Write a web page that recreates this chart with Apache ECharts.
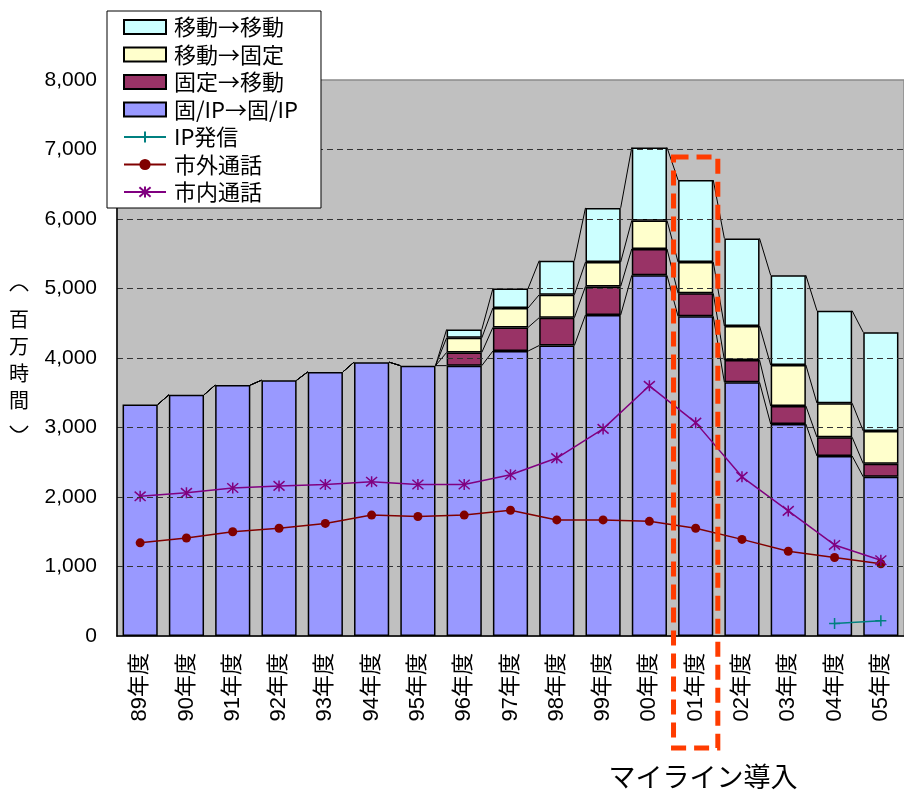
<!DOCTYPE html>
<html>
<head>
<meta charset="utf-8">
<script src="https://cdn.jsdelivr.net/npm/echarts@6/dist/echarts.min.js"></script>
<style>
  html, body { margin: 0; padding: 0; background: #fff; }
  #chart { width: 904px; height: 791px; }
</style>
</head>
<body>
<div id="chart"></div>
<script>
// 年度別の通話時間（百万時間）
const categories = ['89年度', '90年度', '91年度', '92年度', '93年度', '94年度', '95年度', '96年度', '97年度',
  '98年度', '99年度', '00年度', '01年度', '02年度', '03年度', '04年度', '05年度'];

// 積み上げ棒（下から順）
const fixedIpToFixedIp = [3330, 3470, 3610, 3680, 3800, 3940, 3890, 3890, 4100, 4180, 4620, 5190, 4600, 3650, 3050, 2590, 2290];
const fixedToMobile   = [null, null, null, null, null, null, null, 190, 340, 400, 410, 380, 330, 320, 260, 270, 190];
const mobileToFixed   = [null, null, null, null, null, null, null, 210, 280, 330, 350, 410, 450, 490, 590, 490, 470];
const mobileToMobile  = [null, null, null, null, null, null, null, 120, 280, 490, 780, 1050, 1180, 1260, 1290, 1330, 1420];

// 折れ線
const ipCalls    = [null, null, null, null, null, null, null, null, null, null, null, null, null, null, null, 180, 220];
const tollCalls  = [1340, 1410, 1500, 1550, 1620, 1740, 1720, 1740, 1810, 1670, 1670, 1650, 1550, 1390, 1220, 1130, 1040];
const localCalls = [2010, 2060, 2130, 2160, 2180, 2220, 2180, 2180, 2320, 2560, 2980, 3600, 3070, 2290, 1800, 1310, 1090];

const yTicks = [0, 1000, 2000, 3000, 4000, 5000, 6000, 7000, 8000];

const BAR_RATIO = 0.76;
const LATIN = '"Liberation Sans", Arial, "Noto Sans CJK JP", sans-serif';
const CJK = '"Noto Sans CJK JP", "Liberation Sans", sans-serif';

const barSeries = [
  { name: '固/IP→固/IP', data: fixedIpToFixedIp, color: '#9999FF' },
  { name: '固定→移動', data: fixedToMobile, color: '#993366' },
  { name: '移動→固定', data: mobileToFixed, color: '#FFFFCC' },
  { name: '移動→移動', data: mobileToMobile, color: '#CCFFFF' }
];

// 各積み上げ段の上端（棒同士をつなぐ区分線用）
const levels = [];
let running = categories.map(() => 0);
barSeries.forEach(s => {
  running = running.map((v, i) => v + (s.data[i] || 0));
  levels.push(running.slice());
});

const series = [];
barSeries.forEach(s => {
  series.push({
    name: s.name,
    type: 'bar',
    stack: 'total',
    barWidth: (BAR_RATIO * 100) + '%',
    data: s.data,
    itemStyle: { color: s.color, borderColor: '#000', borderWidth: 1.5 },
    z: 2
  });
});

levels.forEach((lv, k) => {
  series.push({
    name: 'seriesLine' + k,
    type: 'custom',
    silent: true,
    z: 3,
    encode: { x: 0, y: 1 },
    data: lv.map((v, i) => [i, v, i + 1 < lv.length ? lv[i + 1] : v]),
    renderItem: function (params, api) {
      const i = api.value(0);
      if (i >= categories.length - 1) return null;
      const half = api.size([1, 0])[0] * BAR_RATIO / 2;
      const a = api.coord([i, api.value(1)]);
      const b = api.coord([i + 1, api.value(2)]);
      return {
        type: 'line',
        shape: { x1: a[0] + half, y1: a[1], x2: b[0] - half, y2: b[1] },
        style: { stroke: '#000', lineWidth: 1 }
      };
    }
  });
});

const plusPath = 'path://M-5,0 L5,0 M0,-5 L0,5';
const starPath = 'path://M0,-5 L0,5 M-4.3,-4.3 L4.3,4.3 M-4.3,4.3 L4.3,-4.3';

series.push({
  name: 'IP発信', type: 'line', data: ipCalls, z: 5,
  symbol: plusPath, symbolSize: 11, showAllSymbol: true,
  lineStyle: { color: '#008080', width: 1.5 },
  itemStyle: { color: '#008080', borderColor: '#008080', borderWidth: 1.5 }
});
series.push({
  name: '市外通話', type: 'line', data: tollCalls, z: 5,
  symbol: 'circle', symbolSize: 9,
  lineStyle: { color: '#800000', width: 1.5 },
  itemStyle: { color: '#800000', borderColor: '#800000', borderWidth: 0 }
});
series.push({
  name: '市内通話', type: 'line', data: localCalls, z: 5,
  symbol: starPath, symbolSize: 11,
  lineStyle: { color: '#800080', width: 1.5 },
  itemStyle: { color: '#800080', borderColor: '#800080', borderWidth: 1.5 }
});

const chart = echarts.init(document.getElementById('chart'), null, { renderer: 'canvas' });

chart.setOption({
  animation: false,
  backgroundColor: '#fff',
  grid: {
    left: 117, right: -3, top: 80, bottom: 155,
    show: true, backgroundColor: '#C0C0C0', borderColor: '#8a8a8a', borderWidth: 1.5
  },
  legend: {
    orient: 'vertical',
    left: 107, top: 11,
    padding: [5, 23, 5, 16],
    itemGap: 5.5,
    itemWidth: 42, itemHeight: 14,
    selectedMode: false,
    backgroundColor: '#fff',
    borderColor: '#000', borderWidth: 1,
    z: 10,
    textStyle: { fontFamily: CJK, fontSize: 22, color: '#000', lineHeight: 22, padding: [0, 0, 0, 3] },
    data: [
      { name: '移動→移動', icon: 'rect' },
      { name: '移動→固定', icon: 'rect' },
      { name: '固定→移動', icon: 'rect' },
      { name: '固/IP→固/IP', icon: 'rect' },
      { name: 'IP発信' },
      { name: '市外通話' },
      { name: '市内通話' }
    ]
  },
  xAxis: {
    type: 'category',
    data: categories,
    boundaryGap: true,
    axisLine: { lineStyle: { color: '#000', width: 1.5 } },
    axisTick: { inside: true, length: 8, lineStyle: { color: '#555', width: 1.5 } },
    axisLabel: {
      rotate: 90, margin: 17, interval: 0,
      fontFamily: LATIN, fontSize: 22, color: '#000'
    },
    z: 6
  },
  yAxis: {
    type: 'value',
    min: yTicks[0], max: yTicks[yTicks.length - 1], interval: 1000,
    axisLine: { show: true, lineStyle: { color: '#000', width: 1.5 } },
    axisTick: { show: false },
    axisLabel: {
      margin: 20, fontFamily: LATIN, fontSize: 21, color: '#000',
      formatter: v => v.toLocaleString('en-US')
    },
    splitLine: {
      show: true, showMinLine: false, showMaxLine: false,
      lineStyle: { color: '#333', type: [6, 4], width: 1 }
    },
    z: 6
  },
  series: series
});

// マイライン導入の枠と注記、縦書きの単位（括弧は縦書き用の弧）
const x01 = chart.convertToPixel({ xAxisIndex: 0 }, categories[12]);
const halfBand = chart.getModel().getComponent('xAxis', 0).axis.getBandWidth() / 2 - 1;
const unitFont = '20px "Noto Sans CJK JP", sans-serif';
const bracketStyle = { fill: null, stroke: '#000', lineWidth: 1.5 };
chart.setOption({
  graphic: [
    {
      type: 'rect', z: 20, silent: true,
      shape: { x: x01 - halfBand, y: 157, width: halfBand * 2, height: 591 },
      style: { fill: null, stroke: '#FF3C00', lineWidth: 5, lineDash: [15, 8] }
    },
    {
      type: 'text', z: 20, silent: true,
      x: 703, y: 777,
      style: {
        text: 'マイライン導入', fill: '#000',
        font: '27px "Noto Sans CJK JP", sans-serif',
        align: 'center', verticalAlign: 'middle'
      }
    },
    {
      type: 'text', z: 20, silent: true,
      x: 19, y: 360,
      style: {
        text: '百\n万\n時\n間', fill: '#000', font: unitFont,
        lineHeight: 27, align: 'center', verticalAlign: 'middle'
      }
    },
    {
      type: 'bezierCurve', z: 20, silent: true,
      shape: { x1: 10, y1: 291, x2: 28, y2: 291, cpx1: 19, cpy1: 279 },
      style: bracketStyle
    },
    {
      type: 'bezierCurve', z: 20, silent: true,
      shape: { x1: 10, y1: 426, x2: 28, y2: 426, cpx1: 19, cpy1: 438 },
      style: bracketStyle
    }
  ]
});
</script>
</body>
</html>
